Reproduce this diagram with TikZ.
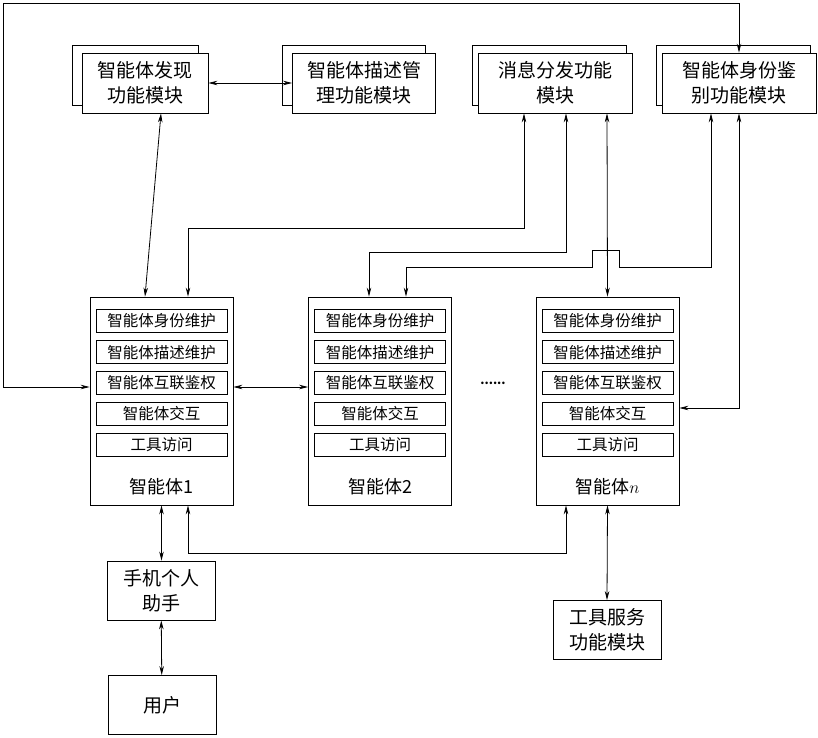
\documentclass[tikz,border=0pt]{standalone}
\usepackage{fontspec}
\setmainfont{Noto Sans CJK SC}
\usetikzlibrary{arrows.meta, positioning}
\tikzset{
  >={Stealth[length=9pt,width=4.5pt]}, % narrow filled heads
  every path/.style={line width=0.8pt},
  modfront/.style={draw, fill=white, minimum width=154pt, minimum height=60pt, inner sep=2pt, align=center, font=\fontsize{19}{25}\selectfont},
  modback/.style={draw, fill=white, minimum width=154pt, minimum height=60pt},
  agent/.style={draw, minimum width=143pt, minimum height=208pt},
  sub/.style={draw, minimum width=131pt, minimum height=23pt, inner sep=0pt, font=\fontsize{15.5}{18}\selectfont},
  plain/.style={draw, minimum width=108pt, minimum height=59pt, align=center, font=\fontsize{19}{25}\selectfont},
}
\begin{document}
\begin{tikzpicture}[x=1pt, y=-1pt]
\useasboundingbox (0,0) rectangle (818,737);

% functional modules (stacked boxes)
\node[modback, minimum width=126pt] at (135,75) {};
\node[modfront, minimum width=126pt] (disc) at (145,83) {智能体发现\\功能模块};
\node[modback, minimum width=143pt] at (354,75) {};
\node[modfront, minimum width=143pt] (desc) at (364,83) {智能体描述管\\理功能模块};
\node[modback] at (549,75) {};
\node[modfront] (msg) at (555,83) {消息分发功能\\模块};
\node[modback] at (733,75) {};
\node[modfront] (auth) at (739,83) {智能体身份鉴\\别功能模块};

% agents
\foreach \a/\x/\lab in {ag1/161.5/智能体1, ag2/380/智能体2, agn/607.5/智能体$n$}{
  \node[agent] (\a) at (\x,401) {};
  \foreach \t [count=\i] in {智能体身份维护, 智能体描述维护, 智能体互联鉴权, 智能体交互, 工具访问}{
    \node[sub] (\a-\i) at ([yshift={-24.5pt-31pt*(\i-1)+0.5pt*(\i>3)}]\a.north) {\t};
  }
  \node[font=\fontsize{18}{22}\selectfont] (\a-lab) at ([yshift=19pt]\a.south) {\lab};
}
\node[font=\bfseries\large] (dots) at (493,383) {......};

% other boxes
\node[plain] (pda) at (161,590.5) {手机个人\\助手};
\node[plain] (user) at (162,705) {用户};
\node[plain] (tool) at (607,630) {工具服务\\功能模块};

% connectors
\draw[<->] (disc) -- (desc);
\draw[<->] ([xshift=16pt]disc.south) -- (disc.south |- ag1.north);
\draw[<->] ([xshift=-31pt]msg.south) -- ++(0,115) -| ([xshift=26.5pt]ag1.north);
\draw[<->] ([xshift=11pt]msg.south) -- ++(0,139) -| ([xshift=-11pt]ag2.north);
\draw[<->] ([xshift=52pt]msg.south) -- (agn.north);
\draw[<->] ([xshift=-28pt]auth.south) -- ++(0,154) -- ++(-92,0) -- ++(0,-17)
  -- ++(-27,0) -- ++(0,17) -| ([xshift=26pt]ag2.north);
\draw[<->] (auth.south) |- ([yshift=-7pt]agn.east);
\coordinate (corner) at (3,3);
\draw[<->] ([yshift=14pt]ag1.west) -| (corner) -| (auth.north);
\draw[<->] ([yshift=14pt]ag1.east) -- ([yshift=14pt]ag2.west);
\draw[<->] (ag1.south) -- (pda.north -| ag1.south);
\draw[<->] ([xshift=26.5pt]ag1.south) -- ++(0,48) -| ([xshift=-41.5pt]agn.south);
\draw[<->] (agn.south) -- (tool.north);
\draw[<->] (pda) -- (user);
\end{tikzpicture}
\end{document}
